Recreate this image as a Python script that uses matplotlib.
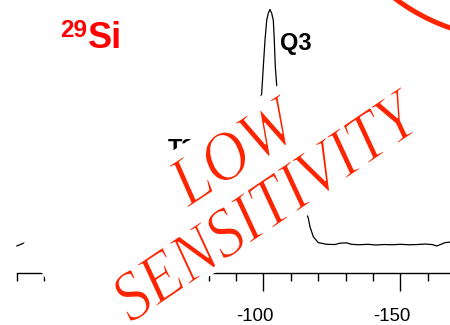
import matplotlib
matplotlib.use("Agg")
import matplotlib.pyplot as plt
from matplotlib.ticker import MultipleLocator
from matplotlib.transforms import Affine2D, ScaledTranslation
from matplotlib.patches import Polygon, Circle, PathPatch
from matplotlib.textpath import TextPath
from matplotlib.font_manager import FontProperties

plt.rcParams["axes.unicode_minus"] = False

# 29Si spectrum: chemical shift (ppm) and relative intensity (%)
shift = [-10.0, -12.5, -20, -30, -40, -50, -55, -58, -61, -64, -67, -70,
         -73, -77, -82, -87, -91, -94, -96.5, -98,
         -99.34, -99.93, -100.55, -101.17, -101.75, -102.37, -102.99,
         -103.58, -103.94, -104.31, -104.82,
         -106, -108, -110, -112, -114, -115.5,
         -116.35, -116.97, -118.18, -120.0, -123.07,
         -126, -128, -130.4, -132, -135, -138, -141, -144, -147, -150,
         -153, -156, -159, -161.5, -163.3, -165, -166.2, -168.0]
intensity = [-0.4, 0.8, 2, 3, 4, 8, 14, 20, 22, 26, 30, 24,
             14, 9, 12, 20, 30, 40, 50, 57,
             64.0, 75.2, 86.5, 94.9, 97.8, 99.4, 97.8,
             94.9, 86.5, 75.2, 67.5,
             55, 42, 33, 26, 19, 14,
             11.3, 7.7, 3.5, 1.0, 0.3,
             0.2, 0.8, 0.9, 0.3, 0.1, 0.3, 0.0, 0.2, 0.1, 0.3,
             0.1, 0.2, 0.4, 0.2, -0.4, 0.4, 1.0, 1.2]

peak_labels = ["Q3", "T3"]
peak_label_pos = [(-106.0, 82.3), (-65.15, 37.6)]

W, H = 450, 325
fig = plt.figure(figsize=(W / 100, H / 100), dpi=100)
ax = fig.add_axes([0, 0, 1, 1])
ax.set_xlim(-3.83, -168.07)
ax.set_ylim(-33.76, 103.4)

ax.plot(shift, intensity, color="black", lw=0.9)

for txt, (x, y) in zip(peak_labels, peak_label_pos):
    ax.text(x, y, txt, fontsize=17, fontweight="bold", family="Liberation Sans",
            ha="left", va="baseline")

for s in ["left", "right", "top"]:
    ax.spines[s].set_visible(False)
ax.spines["bottom"].set_position(("data", -11.8))
ax.spines["bottom"].set_bounds(-10, -168.07)
ax.spines["bottom"].set_linewidth(1.0)
ax.set_yticks([])
ax.xaxis.set_major_locator(MultipleLocator(50))
ax.xaxis.set_minor_locator(MultipleLocator(10))
ax.tick_params(axis="x", which="major", direction="out", length=13, width=1.0,
               pad=11.9, labelsize=13.4)
ax.tick_params(axis="x", which="minor", direction="out", length=6, width=1.0)
shift_lbl = ScaledTranslation(-9 / 100, 0, fig.dpi_scale_trans)
for lbl in ax.get_xticklabels():
    lbl.set_family("Liberation Sans")
    lbl.set_transform(lbl.get_transform() + shift_lbl)

# pixel coordinates, origin at top left
px = Affine2D().scale(1 / W, -1 / H).translate(0, 1) + fig.transFigure

fig.text(60 / W, 1 - 37 / H, "29", color="#ff0000", fontsize=17.5,
         fontweight="bold", family="Liberation Sans", va="baseline")
fig.text(88 / W, 1 - 48 / H, "Si", color="#ff0000", fontsize=26,
         fontweight="bold", family="Liberation Sans", va="baseline")

# stamp: white backing card, red lettering and ring
red = "#ff2400"
card = Polygon([(23.6, 243.1), (90, 350.2), (453.8, 124.7), (387.4, 17.5)],
               closed=True, facecolor="white", edgecolor="none",
               transform=px, zorder=10, clip_on=False)
ax.add_patch(card)

stamp_font = FontProperties(family="Liberation Serif", style="italic")


def stamp_word(word, cx, cy, width, height, angle):
    tp = TextPath((0, 0), word, size=100, prop=stamp_font)
    bb = tp.get_extents()
    tf = (Affine2D()
          .translate(-bb.x0 - bb.width / 2, -bb.y0 - bb.height / 2)
          .scale(width / bb.width, -height / bb.height)
          .rotate_deg(-angle)
          .translate(cx, cy)) + px
    # thin white outline slims the strokes a little
    ax.add_patch(PathPatch(tp, facecolor=red, edgecolor="white", lw=0.9,
                           transform=tf, zorder=11, clip_on=False))


stamp_word("LOW", 234, 151, 140, 47, 33)
stamp_word("SENSITIVITY", 266.5, 205, 356, 47, 34)

ring = Circle((516, -162), 201, fill=False, edgecolor=red, lw=3.6,
              transform=px, zorder=11, clip_on=False)
ax.add_patch(ring)

fig.savefig("out.png", dpi=100)
